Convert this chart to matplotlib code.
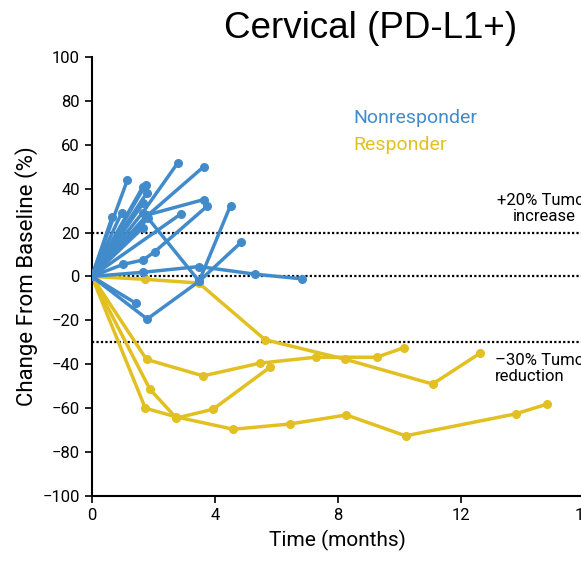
import matplotlib
matplotlib.use('Agg')
import matplotlib.pyplot as plt

# Tumour size over time, one list of (months, % change) per patient
nonresponders = [
    [(0, 0), (1.16, 44)],
    [(0, 0), (1.65, 29), (2.79, 51.6)],
    [(0, 0), (1.75, 27), (3.64, 50)],
    [(0, 0), (1.65, 40.6)],
    [(0, 0), (1.75, 41.7)],
    [(0, 0), (1.78, 37.9)],
    [(0, 0), (1.67, 33.3)],
    [(0, 0), (1.8, 28), (3.64, 35)],
    [(0, 0), (0.66, 27)],
    [(0, 0), (0.97, 29)],
    [(0, 0), (1.65, 22)],
    [(0, 0), (2.9, 28.5)],
    [(0, 0), (1.02, 5.5), (1.67, 7.5), (2.05, 11.3), (3.75, 32)],
    [(0, 0), (1.83, 26.5), (3.49, -2.2), (4.51, 32.3)],
    [(0, 0), (1.8, -19.4), (3.49, -2.2), (4.86, 15.6)],
    [(0, 0), (1.67, 1.9), (3.49, 4.5), (5.32, 1), (6.84, -1.1)],
    [(0, 0), (1.43, -12.2)],
]
responders = [
    [(0, 0), (1.72, -1.3), (3.48, -3), (5.63, -28.8), (8.23, -37.7), (11.08, -49), (12.62, -35)],
    [(0, 0), (1.78, -37.8), (3.62, -45.3), (5.46, -39.5), (7.28, -36.8), (9.26, -36.8), (10.16, -32.4)],
    [(0, 0), (1.89, -51.4), (2.75, -64.5), (3.94, -60.5), (5.79, -41.4)],
    [(0, 0), (1.74, -60), (2.75, -64), (4.6, -69.6), (6.44, -67.2), (8.28, -63.1),
     (10.2, -72.6), (13.78, -62.6), (14.79, -58.2)],
]
thresholds = [20, 0, -30]
x_ticks = [0, 4, 8, 12, 16]
y_ticks = list(range(-100, 101, 20))

blue = '#428bcb'
yellow = '#e2c021'
narrow = ['Liberation Sans Narrow', 'Roboto', 'DejaVu Sans']

fig = plt.figure(figsize=(5.81, 5.63), dpi=100)
ax = fig.add_axes([0.158, 0.119, 0.847, 0.780])

for y in thresholds:
    ax.axhline(y, color='black', linestyle=(0, (1.0, 1.0)), linewidth=1.6, zorder=1)

for pts in responders:
    xs, ys = zip(*pts)
    ax.plot(xs, ys, color=yellow, linewidth=2.5, marker='o', markersize=5.5, zorder=2)
for pts in nonresponders:
    xs, ys = zip(*pts)
    ax.plot(xs, ys, color=blue, linewidth=2.5, marker='o', markersize=5.5, zorder=3)

ax.set_xlim(0, 16)
ax.set_ylim(-100, 100)
ax.set_xticks(x_ticks)
ax.set_yticks(y_ticks)
ax.set_yticklabels([str(v).replace('-', '\u2212') for v in y_ticks])
ax.tick_params(direction='out', length=5, width=1.2, labelsize=12)
for lab in ax.get_xticklabels() + ax.get_yticklabels():
    lab.set_family(narrow)

for side in ['top', 'right']:
    ax.spines[side].set_visible(False)
for side in ['left', 'bottom']:
    ax.spines[side].set_linewidth(1.5)

ax.set_xlabel('Time (months)', fontsize=15, family=narrow, labelpad=5)
ax.set_ylabel('Change From Baseline (%)', fontsize=16, family=narrow, labelpad=3)

ax.text(8.5, 72, 'Nonresponder', color=blue, fontsize=14, family=narrow, va='center')
ax.text(8.5, 60, 'Responder', color=yellow, fontsize=14, family=narrow, va='center')
ax.text(14.7, 31, '+20% Tumor\nincrease', fontsize=12, family=narrow,
        ha='center', va='center', linespacing=1.1)
ax.text(13.1, -42, '\u201330% Tumor\nreduction', fontsize=12, family=narrow,
        ha='left', va='center', linespacing=1.1)

fig.text(0.637, 0.95, 'Cervical (PD-L1+)', fontsize=26.5, family='Liberation Sans',
         ha='center', va='center')

fig.savefig('out.png', dpi=100)
